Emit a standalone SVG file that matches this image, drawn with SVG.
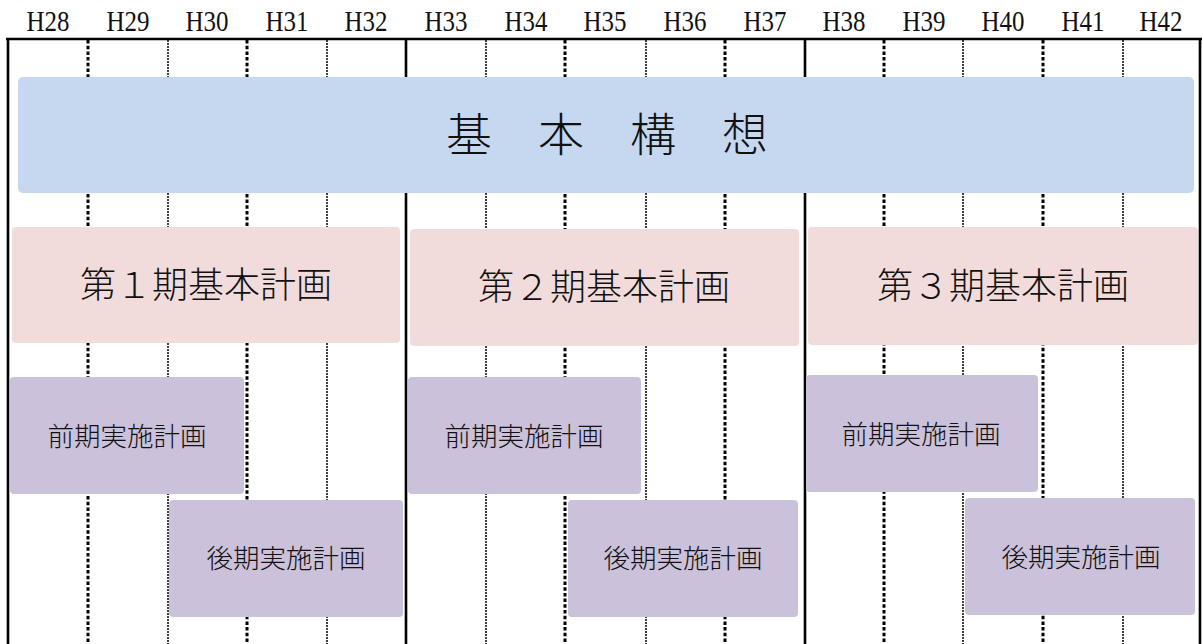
<svg xmlns="http://www.w3.org/2000/svg" width="1202" height="644" viewBox="0 0 1202 644">
<style>
.hdr{font-family:"Liberation Serif","Noto Sans CJK JP",serif;font-size:29px;fill:#111;text-anchor:middle}
.cjk{font-family:"Noto Sans CJK JP","Noto Sans CJK SC",sans-serif;font-weight:300;fill:#111;text-anchor:middle;dominant-baseline:central}
.solid{stroke:#000;stroke-width:2.6;fill:none}
.thick{stroke:#000;stroke-width:3;stroke-dasharray:3.5 2.2;fill:none}
.thin{stroke:#000;stroke-width:1.5;stroke-dasharray:2 1;fill:none}
.blue{fill:#C5D8F0}
.pink{fill:#F2DCDB}
.purple{fill:#CCC1DA}
</style>
<rect width="1202" height="644" fill="#fff"/>
<g id="header">
<text class="hdr" x="48" y="31" textLength="43" lengthAdjust="spacingAndGlyphs">H28</text>
<text class="hdr" x="128" y="31" textLength="43" lengthAdjust="spacingAndGlyphs">H29</text>
<text class="hdr" x="207" y="31" textLength="43" lengthAdjust="spacingAndGlyphs">H30</text>
<text class="hdr" x="287" y="31" textLength="43" lengthAdjust="spacingAndGlyphs">H31</text>
<text class="hdr" x="366" y="31" textLength="43" lengthAdjust="spacingAndGlyphs">H32</text>
<text class="hdr" x="446" y="31" textLength="43" lengthAdjust="spacingAndGlyphs">H33</text>
<text class="hdr" x="526" y="31" textLength="43" lengthAdjust="spacingAndGlyphs">H34</text>
<text class="hdr" x="605" y="31" textLength="43" lengthAdjust="spacingAndGlyphs">H35</text>
<text class="hdr" x="685" y="31" textLength="43" lengthAdjust="spacingAndGlyphs">H36</text>
<text class="hdr" x="765" y="31" textLength="43" lengthAdjust="spacingAndGlyphs">H37</text>
<text class="hdr" x="844" y="31" textLength="43" lengthAdjust="spacingAndGlyphs">H38</text>
<text class="hdr" x="924" y="31" textLength="43" lengthAdjust="spacingAndGlyphs">H39</text>
<text class="hdr" x="1003" y="31" textLength="43" lengthAdjust="spacingAndGlyphs">H40</text>
<text class="hdr" x="1083" y="31" textLength="43" lengthAdjust="spacingAndGlyphs">H41</text>
<text class="hdr" x="1161" y="31" textLength="43" lengthAdjust="spacingAndGlyphs">H42</text>
</g>
<g id="grid">
<line class="solid" x1="6" y1="39" x2="1202" y2="39"/>
<line class="solid" x1="8" y1="38" x2="8" y2="644"/>
<line class="solid" x1="406" y1="38" x2="406" y2="644"/>
<line class="solid" x1="805" y1="38" x2="805" y2="644"/>
<line class="solid" x1="1200" y1="38" x2="1200" y2="644"/>
<line class="thick" x1="88" y1="40" x2="88" y2="644"/>
<line class="thin" x1="168" y1="40" x2="168" y2="644"/>
<line class="thick" x1="247" y1="40" x2="247" y2="644"/>
<line class="thin" x1="327" y1="40" x2="327" y2="644"/>
<line class="thin" x1="486" y1="40" x2="486" y2="644"/>
<line class="thick" x1="565" y1="40" x2="565" y2="644"/>
<line class="thin" x1="646" y1="40" x2="646" y2="644"/>
<line class="thick" x1="725" y1="40" x2="725" y2="644"/>
<line class="thick" x1="884" y1="40" x2="884" y2="644"/>
<line class="thin" x1="963" y1="40" x2="963" y2="644"/>
<line class="thick" x1="1043" y1="40" x2="1043" y2="644"/>
<line class="thin" x1="1123" y1="40" x2="1123" y2="644"/>
</g>
<g id="kihon-koso">
<rect class="blue" x="18" y="77" width="1176" height="116" rx="5"/>
<text class="cjk" x="607" y="131" font-size="46">基　本　構　想</text>
</g>
<g id="plan1">
<rect class="pink" x="12" y="227" width="388" height="116" rx="4"/>
<text class="cjk" x="206" y="282" font-size="36">第１期基本計画</text>
</g>
<g id="plan2">
<rect class="pink" x="410" y="229" width="389" height="117" rx="4"/>
<text class="cjk" x="604" y="284" font-size="36">第２期基本計画</text>
</g>
<g id="plan3">
<rect class="pink" x="808" y="227" width="390" height="118" rx="4"/>
<text class="cjk" x="1003" y="283" font-size="36">第３期基本計画</text>
</g>
<g id="zenki1">
<rect class="purple" x="10" y="377" width="234" height="117" rx="4"/>
<text class="cjk" x="127" y="434" font-size="26.5">前期実施計画</text>
</g>
<g id="koki1">
<rect class="purple" x="169" y="500" width="234" height="117" rx="4"/>
<text class="cjk" x="286" y="556" font-size="26.5">後期実施計画</text>
</g>
<g id="zenki2">
<rect class="purple" x="408" y="377" width="233" height="117" rx="4"/>
<text class="cjk" x="524" y="434" font-size="26.5">前期実施計画</text>
</g>
<g id="koki2">
<rect class="purple" x="568" y="500" width="230" height="117" rx="4"/>
<text class="cjk" x="683" y="556" font-size="26.5">後期実施計画</text>
</g>
<g id="zenki3">
<rect class="purple" x="806" y="375" width="232" height="117" rx="4"/>
<text class="cjk" x="921" y="432" font-size="26.5">前期実施計画</text>
</g>
<g id="koki3">
<rect class="purple" x="965" y="498" width="230" height="117" rx="4"/>
<text class="cjk" x="1081" y="555" font-size="26.5">後期実施計画</text>
</g>
</svg>
